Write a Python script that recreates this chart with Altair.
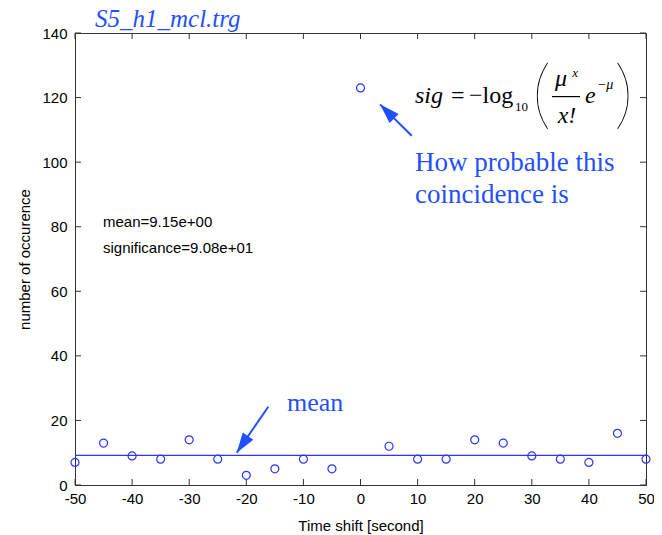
import altair as alt
import pandas as pd

# ---- data ----
shift = [-50, -45, -40, -35, -30, -25, -20, -15, -10, -5, 0,
         5, 10, 15, 20, 25, 30, 35, 40, 45, 50]
counts = [7, 13, 9, 8, 14, 8, 3, 5, 8, 5, 123,
          12, 8, 8, 14, 13, 9, 8, 7, 16, 8]
mean_value = 9.15
significance = 90.8
x_ticks = [-50, -40, -30, -20, -10, 0, 10, 20, 30, 40, 50]
y_ticks = [0, 20, 40, 60, 80, 100, 120, 140]

W, H = 571, 452
BLUE_TXT = "#1f4fff"
BLUE_MK = "#2b35ff"
FRAME = "#333333"
TICK = 6

xs = alt.Scale(domain=[-50, 50], nice=False, zero=False)
ys = alt.Scale(domain=[0, 140], nice=False, zero=False)


def X(field="shift"):
    return alt.X(f"{field}:Q", scale=xs)


def Y(field="count"):
    return alt.Y(f"{field}:Q", scale=ys)


points = alt.Chart(pd.DataFrame({"shift": shift, "count": counts})).mark_point(
    shape="circle", filled=False, size=64, strokeWidth=1.2, color=BLUE_MK, opacity=1
).encode(
    x=alt.X("shift:Q", scale=xs,
            axis=alt.Axis(values=x_ticks, title="Time shift [second]",
                          labelExpr="'' + datum.value", labelPadding=6,
                          labelFlush=False, titlePadding=12)),
    y=alt.Y("count:Q", scale=ys,
            axis=alt.Axis(values=y_ticks, title="number of occurence",
                          labelPadding=8, titlePadding=9)),
)

mean_line = alt.Chart(pd.DataFrame({"count": [mean_value]})).mark_rule(
    color=BLUE_MK, strokeWidth=1.2
).encode(y=Y())

# inward ticks on all four sides
xt = alt.Chart(pd.DataFrame({"shift": x_ticks}))
yt = alt.Chart(pd.DataFrame({"count": y_ticks}))
tick_b = xt.mark_rule(color=FRAME).encode(x=X(), y=alt.value(H), y2=alt.value(H - TICK))
tick_t = xt.mark_rule(color=FRAME).encode(x=X(), y=alt.value(0), y2=alt.value(TICK))
tick_l = yt.mark_rule(color=FRAME).encode(y=Y(), x=alt.value(0), x2=alt.value(TICK))
tick_r = yt.mark_rule(color=FRAME).encode(y=Y(), x=alt.value(W), x2=alt.value(W - TICK))


def txt(text, x, y, size, style="normal", font="Liberation Serif", color="black",
        align="left", baseline="alphabetic", weight="normal"):
    return alt.Chart(pd.DataFrame({"shift": [x], "count": [y], "t": [text]})).mark_text(
        font=font, fontSize=size, fontStyle=style, fontWeight=weight, color=color,
        align=align, baseline=baseline
    ).encode(x=X(), y=Y(), text="t:N")


stats = [
    txt(f"mean={mean_value:.2e}", -45.1, 80.0, 15, font="Liberation Sans"),
    txt(f"significance={significance:.2e}", -45.1, 72.0, 15, font="Liberation Sans"),
]

formula = [
    txt("sig", 9.54, 118.3, 24, style="italic"),
    txt("=", 15.85, 118.3, 24),
    txt("\u2212log", 19.0, 118.3, 24),
    txt("10", 27.06, 115.8, 13),
    txt("(", 31.7, 120.2, 76, font="Lato", align="center", baseline="middle", weight=100),
    txt(")", 46.1, 120.2, 76, font="Lato", align="center", baseline="middle", weight=100),
    txt("\u03bc", 35.1, 123.6, 24, style="italic", align="center"),
    txt("x", 37.57, 126.3, 13, style="italic", align="center"),
    txt("x!", 36.16, 112.1, 24, style="italic", align="center"),
    txt("e", 39.32, 118.3, 24, style="italic"),
    txt("\u2212\u03bc", 41.4, 122.6, 14, style="italic"),
]
frac_bar = alt.Chart(pd.DataFrame({"shift": [33.54], "shift2": [38.44], "count": [120.3]})).mark_rule(
    color="black", strokeWidth=1.2
).encode(x=X(), x2="shift2:Q", y=Y())

notes = [
    txt("How probable this", 9.54, 97.3, 27, color=BLUE_TXT),
    txt("coincidence is", 9.54, 87.5, 27, color=BLUE_TXT),
    txt("mean", -12.87, 22.9, 26, color=BLUE_TXT),
]

# arrows (tail -> tip), angle in degrees clockwise from "up"
arrows = pd.DataFrame({
    "shift": [8.97, -16.15], "count": [108.2, 24.25],
    "shift2": [3.41, -21.68], "count2": [117.9, 10.0],
    "angle": [315.0, 214.5],
})
shafts = alt.Chart(arrows).mark_rule(color=BLUE_TXT, strokeWidth=2).encode(
    x=X(), y=Y(), x2="shift2:Q", y2="count2:Q")
heads = alt.Chart(arrows).mark_point(
    shape="M0,0L-0.32,1L0.32,1Z", filled=True, size=1600, color=BLUE_TXT, opacity=1
).encode(x=X("shift2"), y=Y("count2"), angle=alt.Angle("angle:Q", scale=None))

chart = alt.layer(
    mean_line, tick_b, tick_t, tick_l, tick_r, points, *stats, *formula, frac_bar,
    *notes, shafts, heads
).properties(
    width=W, height=H,
    title=alt.TitleParams("S5_h1_mcl.trg", anchor="start", frame="group", dx=20,
                          font="Liberation Serif", fontStyle="italic", fontSize=25,
                          fontWeight="normal", color=BLUE_TXT, offset=-6),
    autosize=alt.AutoSizeParams(type="none"),
    padding={"left": 67, "top": 25, "right": 8, "bottom": 60},
).configure_view(stroke=FRAME, strokeWidth=1).configure_axis(
    domainColor=FRAME, ticks=False, grid=False, labelFont="Liberation Sans", labelFontSize=15,
    labelColor="black", titleFont="Liberation Sans", titleFontSize=15,
    titleFontWeight="normal", titleColor="black"
)

chart.save("out.html", embed_options={"renderer": "svg", "actions": False})
